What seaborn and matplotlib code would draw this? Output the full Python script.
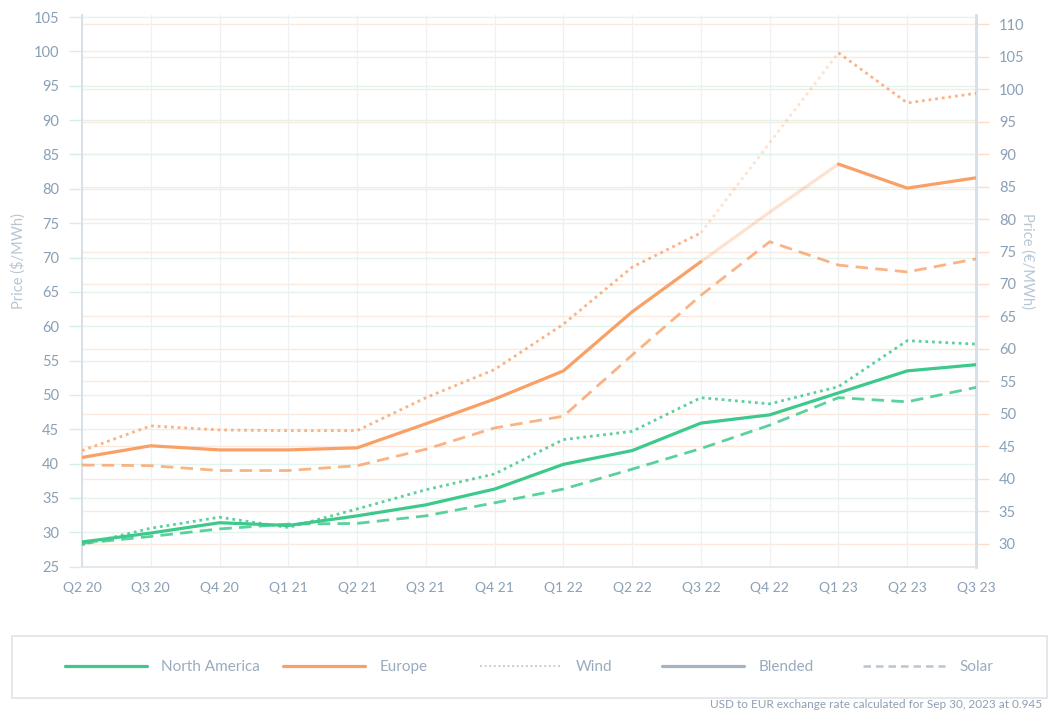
# PPA price index chart: North America vs Europe, wind / blended / solar
import numpy as np
import pandas as pd
import seaborn as sns
import matplotlib.pyplot as plt
from matplotlib.lines import Line2D
from matplotlib.patches import Rectangle

# %%
# data ($/MWh)

quarters = ["Q2 20", "Q3 20", "Q4 20", "Q1 21", "Q2 21", "Q3 21", "Q4 21",
            "Q1 22", "Q2 22", "Q3 22", "Q4 22", "Q1 23", "Q2 23", "Q3 23"]

na_blended = [28.6, 29.9, 31.4, 31.0, 32.4, 34.0, 36.3, 39.9, 41.9, 45.9, 47.1, 50.3, 53.5, 54.4]
na_wind = [28.2, 30.6, 32.2, 30.7, 33.4, 36.2, 38.5, 43.5, 44.7, 49.6, 48.7, 51.2, 57.9, 57.4]
na_solar = [28.4, 29.4, 30.5, 31.2, 31.3, 32.4, 34.3, 36.3, 39.2, 42.2, 45.6, 49.6, 49.0, 51.1]

eu_blended = [40.9, 42.6, 42.0, 42.0, 42.3, 45.8, 49.4, 53.5, 62.1, 69.4, 76.6, 83.6, 80.1, 81.6]
eu_wind = [41.9, 45.5, 44.9, 44.8, 44.8, 49.6, 53.7, 60.3, 68.6, 73.6, 86.7, 99.8, 92.5, 93.9]
eu_solar = [39.8, 39.7, 39.0, 39.0, 39.7, 42.1, 45.2, 46.9, 55.8, 64.5, 72.3, 68.9, 67.9, 69.8]

usd_to_eur = 0.945

legend_labels = ["North America", "Europe", "Wind", "Blended", "Solar"]

# %%
# styling

green = "#3ec98c"
orange = "#f9a066"
text_col = "#8a9fb5"
label_col = "#b7c5d3"

sns.set_theme(style="white")
plt.rcParams["font.family"] = ["Lato", "DejaVu Sans"]

fig = plt.figure(figsize=(10.52, 7.11), dpi=100)
ax = fig.add_axes([82 / 1052, (711 - 566.7) / 711, 894 / 1052, 551.7 / 711])
ax2 = ax.twinx()

x = np.arange(len(quarters))
solid = "-"
dotted = (0, (1, 1.4))
dashed = (0, (4.5, 2.6))

# europe solid and wind have a faded stretch from Q3 22 to Q1 23
fade_from, fade_to = 9, 11

series = [
    (na_blended, green, solid, 2.3, 1.0, False),
    (na_wind, green, dotted, 2.0, 0.85, False),
    (na_solar, green, dashed, 2.0, 0.85, False),
    (eu_blended, orange, solid, 2.3, 1.0, True),
    (eu_wind, orange, dotted, 2.0, 0.8, True),
    (eu_solar, orange, dashed, 2.0, 0.8, False),
]

for vals, col, ls, lw, a, faded in series:
    vals = np.array(vals)
    if faded:
        parts = [(slice(0, fade_from + 1), a), (slice(fade_from, fade_to + 1), 0.3),
                 (slice(fade_to, len(x)), a)]
    else:
        parts = [(slice(0, len(x)), a)]
    for sl, alpha in parts:
        sns.lineplot(x=x[sl], y=vals[sl], ax=ax, color=col, linestyle=ls,
                     linewidth=lw, alpha=alpha, zorder=3)

# %%
# axes

ax.set_xlim(0, len(quarters) - 1)
ax.set_ylim(25, 105.3)
ax.set_yticks(range(25, 106, 5))
ax.set_xticks(x)
ax.set_xticklabels(quarters)

ax2.set_ylim(25 / usd_to_eur, 105.3 / usd_to_eur)
ax2.set_yticks(range(30, 111, 5))

ax.grid(axis="y", color="#e2f4ec", linewidth=1.0)
ax.grid(axis="x", color="#eef1f4", linewidth=0.9)
ax2.grid(axis="y", color="#fde8dc", linewidth=1.0)
ax2.grid(axis="x", visible=False)

ax.set_zorder(ax2.get_zorder() + 1)
ax.patch.set_visible(False)

ax.tick_params(axis="y", length=9.5, width=1, color="#d6efe4", pad=7,
               labelcolor=text_col, labelsize=10.5)
ax.tick_params(axis="x", length=0, pad=11, labelcolor=text_col, labelsize=10)
ax2.tick_params(axis="y", length=9.5, width=1, color="#fcdccb", pad=7,
                labelcolor=text_col, labelsize=10.5)

for a_ in (ax, ax2):
    a_.spines["top"].set_visible(False)
    a_.spines["left"].set_color("#d7dfe7")
    a_.spines["right"].set_color("#d7dfe7")
    a_.spines["bottom"].set_color("#e3e8ed")
    a_.spines["left"].set_linewidth(1.3)
    a_.spines["right"].set_linewidth(1.8)

ax.set_ylabel("Price ($/MWh)", color=label_col, fontsize=10.5)
ax.yaxis.set_label_coords(-0.063, 0.554)
ax2.set_ylabel("Price (€/MWh)", color=label_col, fontsize=10.5, rotation=270)
ax2.yaxis.set_label_coords(1.066, 0.554)

# %%
# legend in a box under the chart, one entry at a time

fig.patches.append(Rectangle((12 / 1052, 1 - 698 / 711), 1035 / 1052, 62 / 711,
                             transform=fig.transFigure, fill=False,
                             edgecolor="#dfe4e9", linewidth=1.2))

handles = [
    Line2D([], [], color=green, lw=2.3),
    Line2D([], [], color=orange, lw=2.3),
    Line2D([], [], color="#c8d2dc", lw=1.5, ls=(0, (1, 1.2))),
    Line2D([], [], color="#a5b3c2", lw=2.3),
    Line2D([], [], color="#b9c5d1", lw=1.8, ls=(0, (3, 2))),
]
legend_x = [65, 283, 480, 662, 863]
for h, lab, lx in zip(handles, legend_labels, legend_x):
    fig.legend([h], [lab], loc="center left", frameon=False,
               bbox_to_anchor=(lx / 1052, 1 - 667 / 711),
               fontsize=11, labelcolor="#9aabbd", handlelength=5.35,
               handletextpad=0.95, borderpad=0, borderaxespad=0)

fig.text(1042 / 1052, 1 - 705 / 711,
         "USD to EUR exchange rate calculated for Sep 30, 2023 at 0.945",
         ha="right", va="center", fontsize=8.5, color="#8d9fb3")

fig.savefig("out.png", dpi=100)
